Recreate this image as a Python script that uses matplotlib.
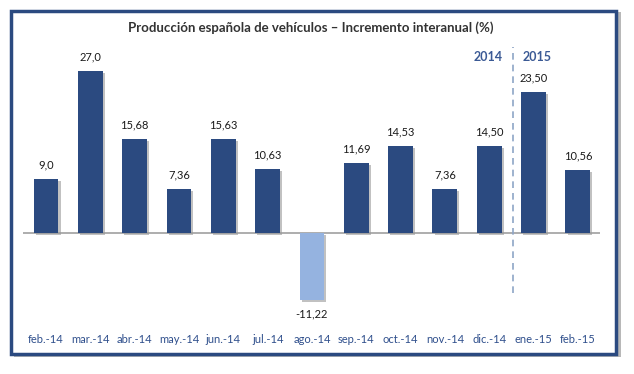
import matplotlib
matplotlib.use("Agg")
import matplotlib.pyplot as plt
from matplotlib.patches import Rectangle
import matplotlib.patheffects as pe

months = ["feb.-14", "mar.-14", "abr.-14", "may.-14", "jun.-14", "jul.-14", "ago.-14",
          "sep.-14", "oct.-14", "nov.-14", "dic.-14", "ene.-15", "feb.-15"]
values = [9.0, 27.0, 15.68, 7.36, 15.63, 10.63, -11.22, 11.69, 14.53, 7.36, 14.50, 23.50, 10.56]
labels = ["9,0", "27,0", "15,68", "7,36", "15,63", "10,63", "-11,22", "11,69", "14,53",
          "7,36", "14,50", "23,50", "10,56"]
title = "Producción española de vehículos – Incremento interanual (%)"
years = ["2014", "2015"]

plt.rcParams['font.family'] = ['Lato', 'DejaVu Sans']

W, H = 634, 374
fig = plt.figure(figsize=(W / 100, H / 100), dpi=100)

def fx(px):
    return px / W

def fy(py):
    return 1 - py / H

# frame with shadow
fig.patches.append(Rectangle((fx(14), fy(357)), fx(607), (347 - 2) / H, transform=fig.transFigure,
                             facecolor="#b8b8b8", edgecolor="none", zorder=0))
fig.patches.append(Rectangle((fx(11), fy(354)), fx(605), 343 / H, transform=fig.transFigure,
                             facecolor="white", edgecolor="#2b4a80", linewidth=2.5, zorder=1))

ax_left, ax_right, ax_top, ax_bottom = 23, 600, 40, 330
ax = fig.add_axes([fx(ax_left), fy(ax_bottom), fx(ax_right - ax_left), (ax_bottom - ax_top) / H])
ax.set_facecolor("none")
ax.set_zorder(2)

x = list(range(len(values)))
colors = ["#95b3e0" if v < 0 else "#2b4a80" for v in values]
bars = ax.bar(x, values, width=0.56, color=colors, zorder=3)
for b in bars:
    b.set_path_effects([pe.SimplePatchShadow(offset=(1.5, -1.5), shadow_rgbFace="#999999", alpha=0.6), pe.Normal()])

ax.set_xlim(-0.52, 12.5)
ax.set_ylim(-(ax_bottom - 233) / 6, (233 - ax_top) / 6)
ax.axhline(0, color="#a0a0a0", linewidth=1.2, zorder=2)

for xi, v, lab in zip(x, values, labels):
    if v >= 0:
        ax.annotate(lab, (xi, v), xytext=(0, 6), textcoords="offset points",
                    ha="center", va="bottom", fontsize=8, color="#1a1a1a")
    else:
        ax.annotate(lab, (xi, v), xytext=(0, -6), textcoords="offset points",
                    ha="center", va="top", fontsize=8, color="#1a1a1a")

ax.plot([10.53, 10.53], [-10.0, 31.0], color="#8ea5c6", linestyle=(0, (4, 3)), linewidth=1.2)

ax.text(10.3, 29.3, years[0], ha="right", va="center", fontsize=9, fontweight="bold", color="#3b5a95")
ax.text(10.75, 29.3, years[1], ha="left", va="center", fontsize=9, fontweight="bold", color="#3b5a95")

ax.set_xticks(x)
ax.set_xticklabels(months, fontsize=8, color="#2f4f8c")
ax.tick_params(axis="x", length=0, pad=3)
ax.set_yticks([])
for s in ax.spines.values():
    s.set_visible(False)

fig.text(fx(311), fy(28), title, ha="center", va="center", fontsize=9.5, fontweight="bold",
         color="#333333", zorder=5)

fig.savefig("out.png", dpi=100)
